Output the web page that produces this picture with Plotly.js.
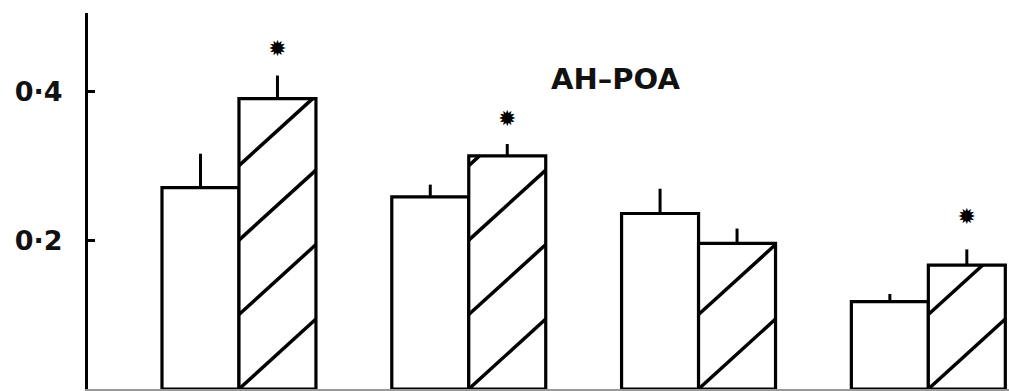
<!DOCTYPE html>
<html>
<head>
<meta charset="utf-8">
<script src="https://cdn.plot.ly/plotly-3.0.1.min.js"></script>
<style>html,body{margin:0;padding:0;background:#fff;}#chart{width:1009px;height:391px;}</style>
</head>
<body>
<div id="chart"></div>
<script>
// ---- data ----
const groups = [1, 2, 3, 4];
const controlValues = [0.2705, 0.258, 0.2357, 0.1173];
const controlErrors = [0.0455, 0.0165, 0.0333, 0.0103];
const treatedValues = [0.390, 0.313, 0.1955, 0.1665];
const treatedErrors = [0.031, 0.016, 0.020, 0.021];
const significanceY = [0.455, 0.360, null, 0.229];
const significanceMark = ['✹', '✹', '', '✹'];
const tickValues = [0.2, 0.4];
const tickLabels = ['0·2', '0·4'];
const panelTitle = 'AH–POA';

// ---- layout constants ----
const barGap = 0.33;
const barWidth = (1 - barGap) / 2;
const hatchStep = 0.1;
const hatchRise = 0.094;

const traces = [
  {
    type: 'bar', x: groups, y: controlValues, name: 'control',
    marker: {color: '#ffffff', line: {color: '#000', width: 3.2}},
    error_y: {type: 'data', symmetric: false, array: controlErrors,
      arrayminus: controlErrors.map(() => 0), width: 0, thickness: 3, color: '#000'}
  },
  {
    type: 'bar', x: groups, y: treatedValues, name: 'treated',
    marker: {color: '#ffffff', line: {color: '#000', width: 3.2}},
    error_y: {type: 'data', symmetric: false, array: treatedErrors,
      arrayminus: treatedErrors.map(() => 0), width: 0, thickness: 3, color: '#000'}
  },
  {
    type: 'scatter', mode: 'text',
    x: groups.map(g => g + barWidth / 2), y: significanceY,
    text: significanceMark, textposition: 'middle center',
    textfont: {family: 'DejaVu Sans', size: 22, color: '#000'},
    showlegend: false, hoverinfo: 'skip'
  }
];

// diagonal hatching of the treated bars, built from the bar values
const shapes = [];
groups.forEach((g, i) => {
  const top = treatedValues[i];
  const left = g, right = g + barWidth;
  for (let y0 = 0; y0 < top - 1e-6; y0 += hatchStep) {
    let x1 = right, y1 = y0 + hatchRise;
    if (y1 > top) { x1 = left + barWidth * (top - y0) / hatchRise; y1 = top; }
    shapes.push({type: 'line', xref: 'x', yref: 'y', x0: left, y0: y0, x1: x1, y1: y1,
      line: {color: '#000', width: 3.5}, layer: 'above'});
  }
});

const layout = {
  width: 1009, height: 391,
  margin: {l: 88, r: 0, t: 13, b: 2},
  paper_bgcolor: '#fff', plot_bgcolor: '#fff',
  showlegend: false,
  barmode: 'group', bargap: barGap, bargroupgap: 0,
  title: {text: panelTitle, x: 0.61, xanchor: 'center', y: 1 - 79 / 391, yanchor: 'middle',
    font: {family: 'DejaVu Sans', size: 29, weight: 'bold', color: '#111'}},
  xaxis: {range: [0.343, 4.351], showgrid: false, zeroline: false, showticklabels: false,
    ticks: '', showline: true, linecolor: '#999', linewidth: 1.5, fixedrange: true},
  yaxis: {range: [0, 0.505], showgrid: false, zeroline: false, showline: true,
    linecolor: '#000', linewidth: 3, ticks: 'inside', ticklen: 7, tickwidth: 3, tickcolor: '#000',
    tickvals: tickValues, ticktext: tickLabels, ticklabelstandoff: 17,
    tickfont: {family: 'DejaVu Sans', size: 27, weight: 'bold', color: '#111'}, fixedrange: true},
  shapes: shapes
};

Plotly.newPlot('chart', traces, layout, {displayModeBar: false, staticPlot: true});
</script>
</body>
</html>
